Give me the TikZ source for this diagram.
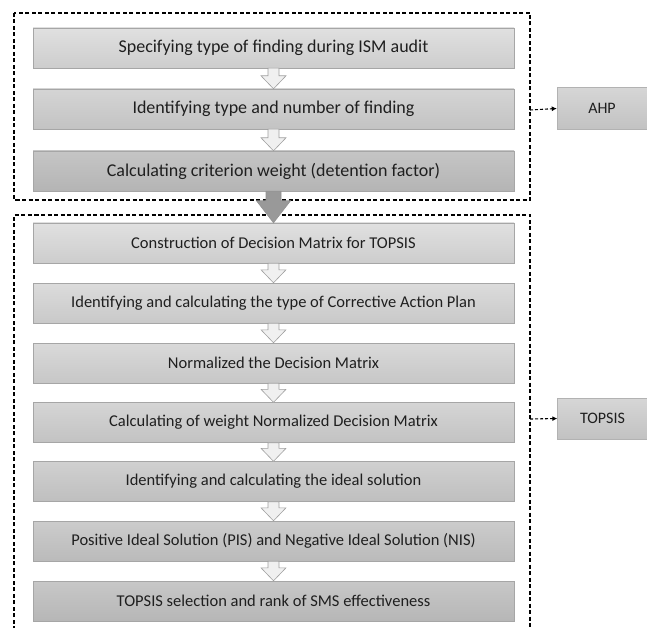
\documentclass[tikz,border=0pt]{standalone}
\usepackage{fontspec}
\setmainfont{Carlito}
\usetikzlibrary{arrows.meta,calc}

\tikzset{
  stepbox/.style={draw=gray!70,minimum width=481pt,minimum height=40pt,inner sep=0pt,text=black!88},
  sidebox/.style={draw=gray!60,minimum width=90pt,minimum height=42pt,inner sep=0pt,text=black!88,
    top color=boxC,bottom color=boxD,font=\fontsize{16}{18}\selectfont},
  groupline/.style={black,line width=1.1pt,dash pattern=on 4pt off 2.5pt},
  linkarrow/.style={black,line width=1.1pt,dash pattern=on 3pt off 2pt,-{Latex[length=5pt,width=5pt]}},
  lightarrow/.style={fill=white!88!gray,draw=gray!75,line width=0.6pt},
  darkarrow/.style={fill=gray!80,draw=gray!85,line width=0.6pt}
}
\definecolor{boxA}{HTML}{E0E0E0}
\definecolor{boxB}{HTML}{CDCDCD}
\definecolor{boxC}{HTML}{D6D6D6}
\definecolor{boxD}{HTML}{C2C2C2}

% block arrow from the bottom of one box to the top of the next
\newcommand{\blockarrow}[5]{%
  \path[#1] let \p1=(#2.south), \p2=(#3.north) in
    (\x1-#4,\y1) -- (\x1-#4,\y2+13pt) -- (\x1-#5,\y2+13pt) -- (\x1,\y2)
    -- (\x1+#5,\y2+13pt) -- (\x1+#4,\y2+13pt) -- (\x1+#4,\y1) -- cycle;}

\begin{document}
\begin{tikzpicture}[x=1pt,y=-1pt]
  \useasboundingbox (0,0) rectangle (647,628);

  % AHP part
  \node[stepbox,top color=boxA,bottom color=boxB,font=\fontsize{18}{20}\selectfont] (s1) at (273.5,48) {Specifying type of finding during ISM audit};
  \node[stepbox,top color=boxA!95!black,bottom color=boxB!95!black,font=\fontsize{18}{20}\selectfont] (s2) at (273.5,109) {Identifying type and number of finding};
  \node[stepbox,top color=boxA!88!black,bottom color=boxB!88!black,font=\fontsize{18}{20}\selectfont] (s3) at (273.5,171) {Calculating criterion weight (detention factor)};

  % TOPSIS part
  \tikzset{every node/.append style={font=\fontsize{16.5}{18}\selectfont}}
  \node[stepbox,top color=boxA,bottom color=boxB] (s4) at (273.5,243) {Construction of Decision Matrix for TOPSIS};
  \node[stepbox,top color=boxA!98!black,bottom color=boxB!98!black] (s5) at (273.5,303) {Identifying and calculating the type of Corrective Action Plan};
  \node[stepbox,top color=boxA!97!black,bottom color=boxB!97!black] (s6) at (273.5,363) {Normalized the Decision Matrix};
  \node[stepbox,top color=boxA!95!black,bottom color=boxB!95!black] (s7) at (273.5,422.5) {Calculating of weight Normalized Decision Matrix};
  \node[stepbox,top color=boxA!93!black,bottom color=boxB!93!black] (s8) at (273.5,481.5) {Identifying and calculating the ideal solution};
  \node[stepbox,top color=boxA!91!black,bottom color=boxB!91!black] (s9) at (273.5,541) {Positive Ideal Solution (PIS) and Negative Ideal Solution (NIS)};
  \node[stepbox,top color=boxA!89!black,bottom color=boxB!89!black] (s10) at (273.5,601) {TOPSIS selection and rank of SMS effectiveness};

  % arrows between steps
  \blockarrow{lightarrow}{s1}{s2}{5.5pt}{12.5pt}
  \blockarrow{lightarrow}{s2}{s3}{5.5pt}{12.5pt}
  \foreach \a/\b in {s4/s5,s5/s6,s6/s7,s7/s8,s8/s9,s9/s10}
    {\blockarrow{lightarrow}{\a}{\b}{5.5pt}{12.5pt}}

  % dashed groups
  \draw[groupline] (14,13) rectangle (530,200);
  \draw[groupline] (14,630) -- (14,215) -- (530,215) -- (530,630);

  % link between the groups
  \path[darkarrow] let \p1=(s3.south), \p2=(s4.north) in
    (\x1-7.5pt,\y1) -- (\x1-7.5pt,\y2+22pt) -- (\x1-17pt,\y2+22pt) -- (\x1,\y2)
    -- (\x1+17pt,\y2+22pt) -- (\x1+7.5pt,\y2+22pt) -- (\x1+7.5pt,\y1) -- cycle;

  % method labels
  \node[sidebox] (ahp) at (602,108.5) {AHP};
  \node[sidebox,minimum height=41pt] (topsis) at (602.5,418.5) {TOPSIS};
  \coordinate (ahpout) at (530,110);
  \coordinate (topsisout) at (530,419);
  \draw[linkarrow] (ahpout) -- (ahp.west);
  \draw[linkarrow] (topsisout) -- (topsis.west);
\end{tikzpicture}
\end{document}
